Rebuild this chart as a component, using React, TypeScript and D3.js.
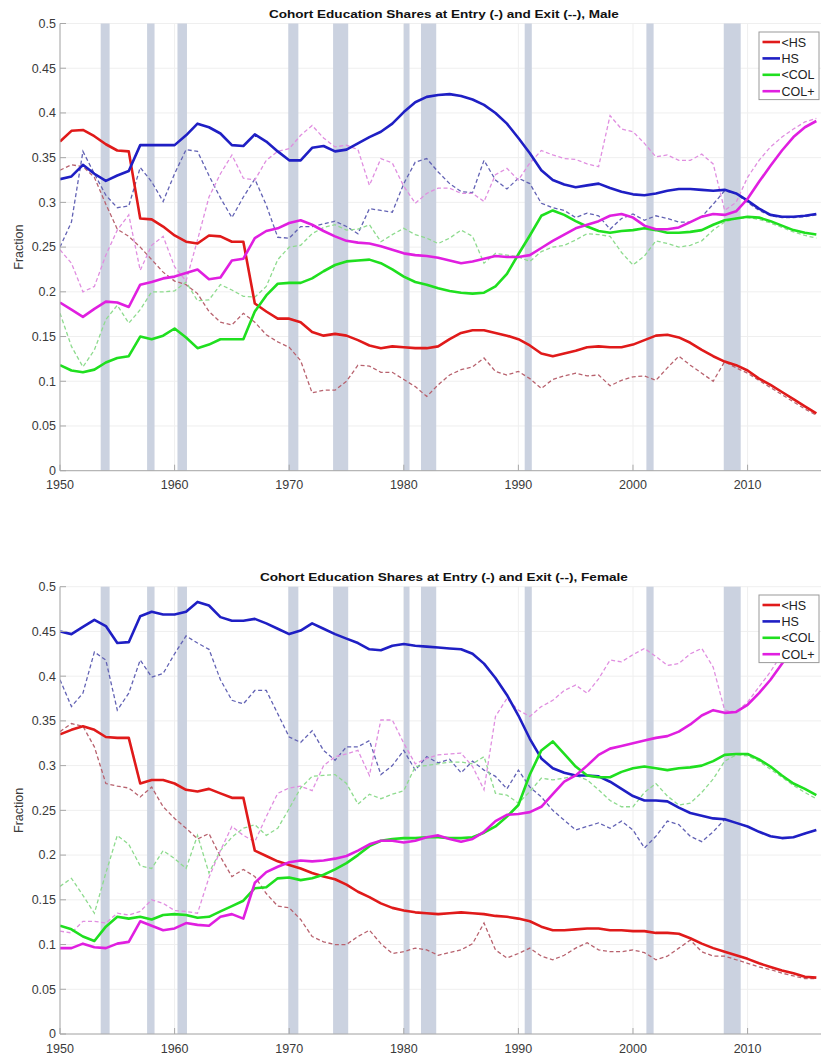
import React, { useEffect } from 'react';
import * as d3 from 'd3';

// ---------- data (fractions, cohorts 1950..2016) ----------
const startYear = 1950;
const endYear = 2016;
const years = d3.range(startYear, endYear + 1);

const seriesNames = ['<HS', 'HS', '<COL', 'COL+'];
const solidColors = ['#e01a1a', '#1f1fc4', '#1fdf1f', '#e01fe0'];
const dashColors = ['#b8626e', '#6262b4', '#8edb8e', '#e08ee0'];

const xTicks = [1950, 1960, 1970, 1980, 1990, 2000, 2010];
const yTicks = [0, 0.05, 0.1, 0.15, 0.2, 0.25, 0.3, 0.35, 0.4, 0.45, 0.5];
const yTickLabels = ['0', '0.05', '0.1', '0.15', '0.2', '0.25', '0.3', '0.35', '0.4', '0.45', '0.5'];

const recessionStart = [1953.55, 1957.6, 1960.25, 1969.92, 1973.83, 1980.0, 1981.5, 1990.55, 2001.17, 2007.92];
const recessionEnd = [1954.33, 1958.25, 1961.08, 1970.8, 1975.15, 1980.5, 1982.83, 1991.17, 2001.8, 2009.4];

// Male, entry (solid)
const maleLessHSEntry = [
  0.368, 0.380, 0.381, 0.374, 0.365, 0.358, 0.357, 0.282, 0.281, 0.273,
  0.263, 0.256, 0.254, 0.263, 0.262, 0.256, 0.256, 0.187, 0.178, 0.170,
  0.170, 0.166, 0.155, 0.151, 0.153, 0.151, 0.146, 0.140, 0.137, 0.139,
  0.138, 0.137, 0.137, 0.139, 0.147, 0.154, 0.157, 0.157, 0.154, 0.151,
  0.147, 0.140, 0.131, 0.128, 0.131, 0.134, 0.138, 0.139, 0.138, 0.138,
  0.141, 0.146, 0.151, 0.152, 0.149, 0.143, 0.135, 0.128, 0.122, 0.118,
  0.112, 0.103, 0.096, 0.088, 0.080, 0.072, 0.064,
];
const maleHSEntry = [
  0.326, 0.329, 0.342, 0.332, 0.324, 0.330, 0.335, 0.364, 0.364, 0.364,
  0.364, 0.375, 0.388, 0.384, 0.377, 0.364, 0.363, 0.376, 0.368, 0.357,
  0.347, 0.347, 0.361, 0.363, 0.357, 0.359, 0.366, 0.373, 0.379, 0.388,
  0.401, 0.412, 0.418, 0.420, 0.421, 0.419, 0.415, 0.409, 0.400, 0.388,
  0.372, 0.355, 0.336, 0.325, 0.320, 0.317, 0.319, 0.321, 0.316, 0.312,
  0.309, 0.308, 0.310, 0.313, 0.315, 0.315, 0.314, 0.313, 0.314, 0.310,
  0.302, 0.293, 0.286, 0.284, 0.284, 0.285, 0.287,
];
const maleLessColEntry = [
  0.118, 0.112, 0.110, 0.113, 0.121, 0.126, 0.128, 0.150, 0.147, 0.151,
  0.159, 0.149, 0.137, 0.141, 0.147, 0.147, 0.147, 0.178, 0.196, 0.209,
  0.210, 0.210, 0.215, 0.223, 0.230, 0.234, 0.235, 0.236, 0.232, 0.225,
  0.217, 0.211, 0.208, 0.204, 0.201, 0.199, 0.198, 0.199, 0.206, 0.220,
  0.242, 0.263, 0.285, 0.291, 0.286, 0.279, 0.273, 0.268, 0.266, 0.268,
  0.269, 0.271, 0.269, 0.266, 0.266, 0.267, 0.269, 0.275, 0.280, 0.282,
  0.284, 0.283, 0.279, 0.274, 0.269, 0.266, 0.264,
];
const maleColPlusEntry = [
  0.188, 0.180, 0.172, 0.181, 0.189, 0.188, 0.183, 0.208, 0.211, 0.215,
  0.217, 0.221, 0.225, 0.214, 0.216, 0.235, 0.237, 0.260, 0.268, 0.271,
  0.277, 0.280, 0.275, 0.268, 0.262, 0.257, 0.255, 0.254, 0.251, 0.247,
  0.243, 0.241, 0.240, 0.238, 0.235, 0.232, 0.234, 0.237, 0.240, 0.239,
  0.239, 0.241, 0.249, 0.257, 0.264, 0.271, 0.275, 0.279, 0.285, 0.287,
  0.283, 0.274, 0.270, 0.270, 0.272, 0.278, 0.284, 0.287, 0.286, 0.290,
  0.304, 0.323, 0.341, 0.358, 0.373, 0.384, 0.391,
];

// Male, exit (dashed)
const maleLessHSExit = [
  0.336, 0.342, 0.340, 0.328, 0.298, 0.270, 0.262, 0.250, 0.236, 0.222,
  0.212, 0.208, 0.198, 0.178, 0.166, 0.163, 0.176, 0.166, 0.152, 0.144,
  0.138, 0.123, 0.087, 0.090, 0.090, 0.100, 0.118, 0.117, 0.110, 0.110,
  0.102, 0.094, 0.083, 0.096, 0.107, 0.113, 0.116, 0.126, 0.111, 0.107,
  0.111, 0.103, 0.092, 0.102, 0.106, 0.109, 0.106, 0.107, 0.095, 0.101,
  0.105, 0.106, 0.101, 0.115, 0.128, 0.118, 0.109, 0.100, 0.122, 0.115,
  0.109, 0.101, 0.093, 0.085, 0.077, 0.069, 0.062,
];
const maleHSExit = [
  0.250, 0.278, 0.357, 0.332, 0.308, 0.294, 0.296, 0.339, 0.323, 0.301,
  0.332, 0.359, 0.357, 0.330, 0.305, 0.283, 0.306, 0.326, 0.297, 0.261,
  0.260, 0.273, 0.273, 0.276, 0.279, 0.273, 0.265, 0.293, 0.291, 0.289,
  0.321, 0.345, 0.349, 0.334, 0.321, 0.312, 0.311, 0.347, 0.325, 0.315,
  0.327, 0.321, 0.299, 0.294, 0.291, 0.283, 0.288, 0.285, 0.270, 0.282,
  0.287, 0.280, 0.285, 0.282, 0.278, 0.278, 0.284, 0.298, 0.313, 0.310,
  0.300, 0.291, 0.285, 0.283, 0.283, 0.284, 0.286,
];
const maleLessColExit = [
  0.176, 0.139, 0.116, 0.135, 0.169, 0.185, 0.165, 0.180, 0.200, 0.200,
  0.201, 0.211, 0.190, 0.191, 0.208, 0.202, 0.195, 0.194, 0.206, 0.236,
  0.250, 0.252, 0.265, 0.272, 0.275, 0.269, 0.270, 0.275, 0.256, 0.264,
  0.271, 0.264, 0.260, 0.254, 0.260, 0.269, 0.262, 0.232, 0.243, 0.241,
  0.239, 0.234, 0.245, 0.250, 0.252, 0.258, 0.265, 0.264, 0.262, 0.244,
  0.230, 0.240, 0.257, 0.254, 0.250, 0.252, 0.257, 0.269, 0.278, 0.282,
  0.283, 0.281, 0.277, 0.272, 0.267, 0.263, 0.260,
];
const maleColPlusExit = [
  0.247, 0.232, 0.200, 0.206, 0.241, 0.269, 0.286, 0.224, 0.252, 0.262,
  0.228, 0.212, 0.258, 0.306, 0.332, 0.353, 0.327, 0.325, 0.347, 0.357,
  0.360, 0.375, 0.386, 0.372, 0.362, 0.364, 0.359, 0.319, 0.349, 0.344,
  0.318, 0.299, 0.310, 0.316, 0.316, 0.310, 0.310, 0.301, 0.331, 0.338,
  0.325, 0.344, 0.358, 0.353, 0.349, 0.348, 0.343, 0.340, 0.397, 0.382,
  0.379, 0.366, 0.351, 0.353, 0.347, 0.347, 0.354, 0.343, 0.291, 0.300,
  0.328, 0.347, 0.362, 0.373, 0.382, 0.390, 0.394,
];

// Female, entry (solid)
const femLessHSEntry = [
  0.335, 0.340, 0.344, 0.340, 0.332, 0.331, 0.331, 0.280, 0.284, 0.284,
  0.280, 0.273, 0.271, 0.274, 0.269, 0.264, 0.264, 0.205, 0.199, 0.193,
  0.189, 0.185, 0.180, 0.176, 0.173, 0.167, 0.159, 0.153, 0.146, 0.141,
  0.138, 0.136, 0.135, 0.134, 0.135, 0.136, 0.135, 0.134, 0.132, 0.131,
  0.129, 0.126, 0.120, 0.116, 0.116, 0.117, 0.118, 0.118, 0.116, 0.116,
  0.115, 0.115, 0.113, 0.113, 0.112, 0.107, 0.101, 0.096, 0.092, 0.088,
  0.084, 0.079, 0.075, 0.071, 0.068, 0.064, 0.063,
];
const femHSEntry = [
  0.450, 0.447, 0.455, 0.463, 0.456, 0.437, 0.438, 0.467, 0.472, 0.469,
  0.469, 0.472, 0.483, 0.479, 0.466, 0.462, 0.462, 0.464, 0.459, 0.453,
  0.447, 0.451, 0.459, 0.453, 0.447, 0.442, 0.437, 0.430, 0.429, 0.434,
  0.436, 0.434, 0.433, 0.432, 0.431, 0.430, 0.425, 0.414, 0.398, 0.379,
  0.356, 0.330, 0.308, 0.297, 0.292, 0.289, 0.289, 0.288, 0.282, 0.274,
  0.266, 0.261, 0.261, 0.260, 0.253, 0.247, 0.244, 0.241, 0.240, 0.236,
  0.232, 0.226, 0.221, 0.219, 0.220, 0.224, 0.228,
];
const femLessColEntry = [
  0.121, 0.117, 0.109, 0.104, 0.120, 0.131, 0.129, 0.131, 0.128, 0.133,
  0.134, 0.133, 0.130, 0.131, 0.137, 0.143, 0.149, 0.163, 0.164, 0.174,
  0.175, 0.172, 0.174, 0.178, 0.184, 0.191, 0.200, 0.210, 0.216, 0.218,
  0.219, 0.219, 0.220, 0.220, 0.219, 0.219, 0.220, 0.225, 0.232, 0.243,
  0.256, 0.290, 0.317, 0.327, 0.313, 0.299, 0.289, 0.287, 0.287, 0.293,
  0.297, 0.299, 0.297, 0.295, 0.297, 0.298, 0.300, 0.305, 0.312, 0.313,
  0.313, 0.307, 0.299, 0.289, 0.280, 0.274, 0.267,
];
const femColPlusEntry = [
  0.096, 0.096, 0.101, 0.097, 0.096, 0.101, 0.103, 0.126, 0.121, 0.116,
  0.118, 0.124, 0.122, 0.121, 0.131, 0.134, 0.129, 0.169, 0.181, 0.187,
  0.192, 0.194, 0.193, 0.194, 0.196, 0.199, 0.205, 0.212, 0.216, 0.216,
  0.214, 0.216, 0.220, 0.222, 0.218, 0.215, 0.218, 0.226, 0.238, 0.245,
  0.246, 0.248, 0.254, 0.268, 0.282, 0.289, 0.300, 0.312, 0.319, 0.322,
  0.325, 0.328, 0.331, 0.333, 0.338, 0.346, 0.356, 0.362, 0.359, 0.360,
  0.368, 0.381, 0.396, 0.414, 0.431, 0.446, 0.461,
];

// Female, exit (dashed)
const femLessHSExit = [
  0.338, 0.347, 0.344, 0.321, 0.280, 0.277, 0.275, 0.265, 0.276, 0.254,
  0.241, 0.230, 0.218, 0.224, 0.198, 0.176, 0.184, 0.176, 0.157, 0.143,
  0.141, 0.128, 0.109, 0.103, 0.100, 0.100, 0.109, 0.116, 0.101, 0.090,
  0.092, 0.096, 0.094, 0.088, 0.091, 0.094, 0.101, 0.124, 0.094, 0.085,
  0.090, 0.096, 0.087, 0.083, 0.088, 0.096, 0.102, 0.094, 0.092, 0.092,
  0.094, 0.091, 0.083, 0.087, 0.096, 0.105, 0.092, 0.087, 0.087, 0.083,
  0.079, 0.075, 0.072, 0.068, 0.065, 0.062, 0.062,
];
const femHSExit = [
  0.396, 0.366, 0.381, 0.427, 0.418, 0.362, 0.381, 0.418, 0.399, 0.403,
  0.425, 0.445, 0.437, 0.430, 0.396, 0.373, 0.369, 0.384, 0.384, 0.358,
  0.332, 0.326, 0.339, 0.317, 0.306, 0.321, 0.321, 0.328, 0.290, 0.300,
  0.317, 0.295, 0.310, 0.303, 0.307, 0.292, 0.305, 0.295, 0.288, 0.274,
  0.295, 0.276, 0.265, 0.250, 0.239, 0.228, 0.232, 0.236, 0.230, 0.238,
  0.228, 0.208, 0.221, 0.238, 0.234, 0.221, 0.215, 0.226, 0.240, 0.236,
  0.232, 0.226, 0.221, 0.219, 0.220, 0.224, 0.228,
];
const femLessColExit = [
  0.165, 0.174, 0.155, 0.135, 0.180, 0.222, 0.212, 0.188, 0.185, 0.205,
  0.196, 0.185, 0.222, 0.180, 0.205, 0.220, 0.230, 0.234, 0.222, 0.230,
  0.252, 0.275, 0.288, 0.289, 0.290, 0.280, 0.257, 0.268, 0.263, 0.268,
  0.272, 0.299, 0.300, 0.302, 0.304, 0.304, 0.302, 0.310, 0.269, 0.267,
  0.258, 0.271, 0.286, 0.284, 0.286, 0.289, 0.284, 0.273, 0.261, 0.254,
  0.254, 0.270, 0.280, 0.266, 0.256, 0.258, 0.270, 0.285, 0.305, 0.312,
  0.311, 0.305, 0.296, 0.287, 0.278, 0.270, 0.263,
];
const femColPlusExit = [
  0.115, 0.113, 0.126, 0.126, 0.124, 0.135, 0.133, 0.137, 0.150, 0.146,
  0.138, 0.137, 0.135, 0.175, 0.205, 0.232, 0.222, 0.215, 0.243, 0.269,
  0.275, 0.277, 0.272, 0.300, 0.310, 0.313, 0.317, 0.289, 0.351, 0.351,
  0.325, 0.302, 0.308, 0.312, 0.313, 0.314, 0.299, 0.273, 0.355, 0.375,
  0.362, 0.355, 0.366, 0.373, 0.384, 0.390, 0.381, 0.397, 0.418, 0.416,
  0.424, 0.431, 0.422, 0.412, 0.414, 0.425, 0.431, 0.410, 0.362, 0.360,
  0.371, 0.388, 0.405, 0.425, 0.442, 0.455, 0.463,
];

const panels = [
  {
    title: 'Cohort Education Shares at Entry (-) and Exit (--), Male',
    entry: [maleLessHSEntry, maleHSEntry, maleLessColEntry, maleColPlusEntry],
    exit: [maleLessHSExit, maleHSExit, maleLessColExit, maleColPlusExit],
  },
  {
    title: 'Cohort Education Shares at Entry (-) and Exit (--), Female',
    entry: [femLessHSEntry, femHSEntry, femLessColEntry, femColPlusEntry],
    exit: [femLessHSExit, femHSExit, femLessColExit, femColPlusExit],
  },
];

// ---------- layout ----------
const W = 821;
const H = 1057;
const plotLeft = 60;
const plotRight = 827.8;
const layouts = [
  { top: 23.5, bottom: 470.7, titleY: 18, titleLen: 350, legendTop: 32 },
  { top: 586.7, bottom: 1034, titleY: 581, titleLen: 368, legendTop: 595 },
];
const FONT = '"Liberation Sans", Arial, Helvetica, sans-serif';

function Panel({ idx }: { idx: number }) {
  const p = panels[idx];
  const L = layouts[idx];
  const x = d3.scaleLinear().domain([1950, 2017]).range([plotLeft, plotRight]);
  const y = d3.scaleLinear().domain([0, 0.5]).range([L.bottom, L.top]);
  const line = d3
    .line<number>()
    .x((_, i) => x(years[i]))
    .y((v) => y(v));
  const clipId = `clip${idx}`;
  const legendX = 759;
  const legendW = 60;
  const legendRowH = 16.4;
  return (
    <g>
      <defs>
        <clipPath id={clipId}>
          <rect x={plotLeft} y={L.top} width={plotRight - plotLeft} height={L.bottom - L.top} />
        </clipPath>
      </defs>
      {/* grid */}
      {yTicks.map((t) => (
        <line key={'gy' + t} x1={plotLeft} x2={plotRight} y1={y(t)} y2={y(t)} stroke="#efefef" strokeWidth={1} />
      ))}
      {xTicks.map((t) => (
        <line key={'gx' + t} x1={x(t)} x2={x(t)} y1={L.top} y2={L.bottom} stroke="#efefef" strokeWidth={1} />
      ))}
      {/* recessions */}
      {recessionStart.map((s, i) => (
        <rect
          key={'r' + i}
          x={x(s)}
          y={L.top}
          width={x(recessionEnd[i]) - x(s)}
          height={L.bottom - L.top}
          fill="#cbd2e0"
        />
      ))}
      {/* lines */}
      <g clipPath={`url(#${clipId})`}>
        {p.exit.map((s, i) => (
          <path
            key={'d' + i}
            d={line(s) || ''}
            fill="none"
            stroke={dashColors[i]}
            strokeWidth={1.3}
            strokeDasharray="4,2.6"
          />
        ))}
        {p.entry.map((s, i) => (
          <path
            key={'s' + i}
            d={line(s) || ''}
            fill="none"
            stroke={solidColors[i]}
            strokeWidth={2.6}
            strokeLinejoin="round"
          />
        ))}
      </g>
      {/* axes */}
      <line x1={plotLeft} x2={plotLeft} y1={L.top} y2={L.bottom} stroke="#a8a8a8" strokeWidth={1} />
      <line x1={plotLeft} x2={plotRight} y1={L.bottom} y2={L.bottom} stroke="#a8a8a8" strokeWidth={1} />
      {yTicks.map((t, i) => (
        <g key={'yt' + t}>
          <line x1={plotLeft} x2={plotLeft + 6} y1={y(t)} y2={y(t)} stroke="#a8a8a8" />
          <text
            x={plotLeft - 4}
            y={y(t)}
            dy="0.35em"
            textAnchor="end"
            fontFamily={FONT}
            fontSize={12.5}
            fill="#3a3a3a"
          >
            {yTickLabels[i]}
          </text>
        </g>
      ))}
      {xTicks.map((t) => (
        <g key={'xt' + t}>
          <line x1={x(t)} x2={x(t)} y1={L.bottom} y2={L.bottom - 6} stroke="#a8a8a8" />
          <text
            x={x(t)}
            y={L.bottom + 18.5}
            textAnchor="middle"
            fontFamily={FONT}
            fontSize={12.5}
            fill="#3a3a3a"
          >
            {t}
          </text>
        </g>
      ))}
      <text
        transform={`translate(22.5, ${(L.top + L.bottom) / 2}) rotate(-90)`}
        textAnchor="middle"
        fontFamily={FONT}
        fontSize={12.5}
        fill="#3a3a3a"
      >
        Fraction
      </text>
      <text
        x={(plotLeft + plotRight) / 2}
        y={L.titleY}
        textAnchor="middle"
        fontFamily={FONT}
        fontWeight="bold"
        fontSize={11.5}
        fill="#111"
        textLength={L.titleLen}
        lengthAdjust="spacingAndGlyphs"
      >
        {p.title}
      </text>
      {/* legend */}
      <rect
        x={legendX}
        y={L.legendTop}
        width={legendW}
        height={legendRowH * 4 + 2}
        fill="#fff"
        stroke="#9a9a9a"
        strokeWidth={1}
      />
      {seriesNames.map((n, i) => {
        const cy = L.legendTop + 10 + i * legendRowH;
        return (
          <g key={'lg' + i}>
            <line x1={legendX + 3.5} x2={legendX + 21} y1={cy} y2={cy} stroke={solidColors[i]} strokeWidth={2.6} />
            <text x={legendX + 22.5} y={cy} dy="0.36em" fontFamily={FONT} fontSize={12.5} fill="#222">
              {n}
            </text>
          </g>
        );
      })}
    </g>
  );
}

export default function App() {
  useEffect(() => {
    document.body.style.margin = '0';
  }, []);
  return (
    <svg
      width={W}
      height={H}
      viewBox={`0 0 ${W} ${H}`}
      style={{ display: 'block', position: 'absolute', left: 0, top: 0, background: '#fff' }}
    >
      <rect x={0} y={0} width={W} height={H} fill="#fff" />
      <Panel idx={0} />
      <Panel idx={1} />
    </svg>
  );
}
